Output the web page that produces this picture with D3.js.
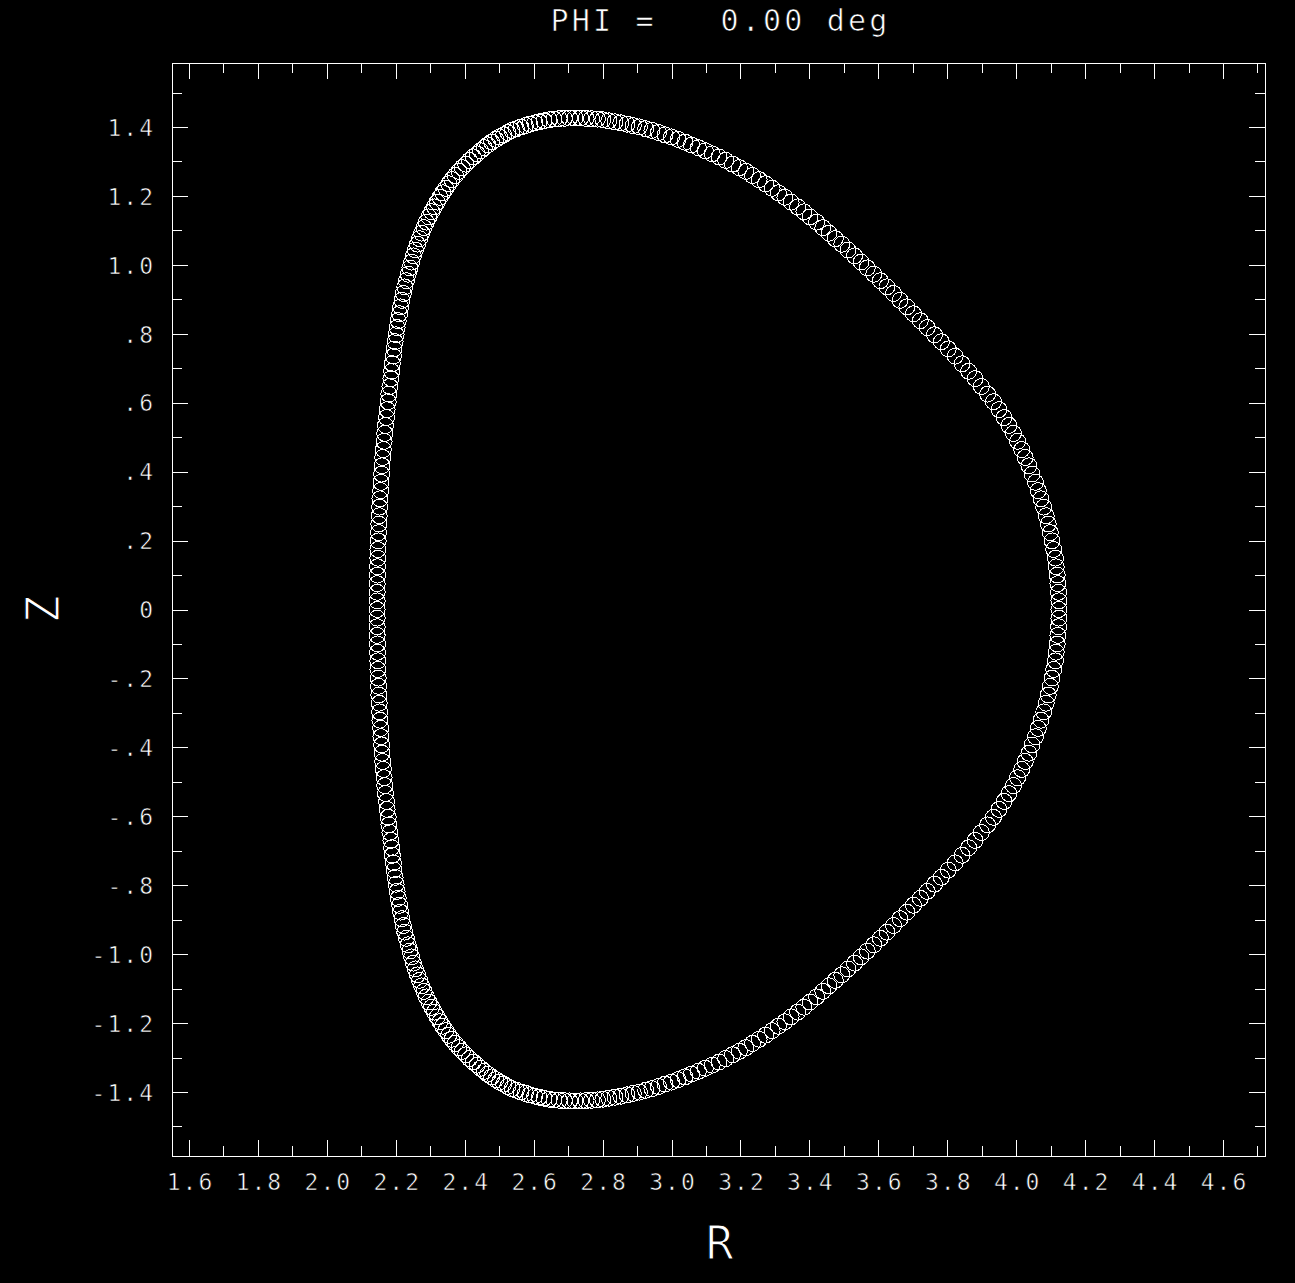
<!DOCTYPE html>
<html>
<head>
<meta charset="utf-8">
<script src="https://cdn.jsdelivr.net/npm/d3@7"></script>
<style>
  html, body { margin: 0; padding: 0; background: #000; }
  svg { display: block; }
</style>
</head>
<body>
<svg id="chart"></svg>
<script>
// ---- data ----
const title = "PHI =   0.00 deg";
const xLabel = "R";
const yLabel = "Z";

const xTicks = [1.6, 1.8, 2.0, 2.2, 2.4, 2.6, 2.8, 3.0, 3.2, 3.4, 3.6, 3.8, 4.0, 4.2, 4.4, 4.6];
const xTickLabels = ["1.6", "1.8", "2.0", "2.2", "2.4", "2.6", "2.8", "3.0", "3.2", "3.4", "3.6", "3.8", "4.0", "4.2", "4.4", "4.6"];
const xMinorTicks = [1.7, 1.9, 2.1, 2.3, 2.5, 2.7, 2.9, 3.1, 3.3, 3.5, 3.7, 3.9, 4.1, 4.3, 4.5, 4.7];

const yTicks = [1.4, 1.2, 1.0, 0.8, 0.6, 0.4, 0.2, 0, -0.2, -0.4, -0.6, -0.8, -1.0, -1.2, -1.4];
const yTickLabels = ["1.4", "1.2", "1.0", ".8", ".6", ".4", ".2", "0", "-.2", "-.4", "-.6", "-.8", "-1.0", "-1.2", "-1.4"];
const yMinorTicks = [1.5, 1.3, 1.1, 0.9, 0.7, 0.5, 0.3, 0.1, -0.1, -0.3, -0.5, -0.7, -0.9, -1.1, -1.3, -1.5];

// boundary points (R, Z), one circle each
const rPts = [
  4.124, 4.124, 4.123, 4.121, 4.119, 4.116, 4.114, 4.109, 4.104, 4.099,
  4.093, 4.087, 4.080, 4.072, 4.064, 4.056, 4.046, 4.037, 4.026, 4.016,
  4.004, 3.992, 3.979, 3.965, 3.950, 3.934, 3.917, 3.899, 3.881, 3.862,
  3.843, 3.823, 3.803, 3.783, 3.763, 3.742, 3.722, 3.702, 3.683, 3.663,
  3.644, 3.625, 3.606, 3.587, 3.568, 3.550, 3.531, 3.512, 3.494, 3.475,
  3.457, 3.439, 3.421, 3.402, 3.384, 3.366, 3.347, 3.329, 3.310, 3.292,
  3.273, 3.254, 3.235, 3.216, 3.197, 3.177, 3.157, 3.138, 3.118, 3.098,
  3.078, 3.058, 3.039, 3.019, 3.000, 2.981, 2.962, 2.943, 2.925, 2.907,
  2.889, 2.871, 2.853, 2.836, 2.818, 2.801, 2.785, 2.768, 2.752, 2.736,
  2.720, 2.704, 2.689, 2.674, 2.659, 2.645, 2.630, 2.616, 2.603, 2.589,
  2.576, 2.563, 2.550, 2.537, 2.525, 2.513, 2.501, 2.490, 2.478, 2.467,
  2.457, 2.446, 2.436, 2.425, 2.414, 2.403, 2.393, 2.383, 2.373, 2.363,
  2.354, 2.345, 2.336, 2.328, 2.320, 2.312, 2.304, 2.296, 2.289, 2.282,
  2.275, 2.269, 2.263, 2.257, 2.251, 2.246, 2.241, 2.236, 2.231, 2.226,
  2.222, 2.218, 2.214, 2.211, 2.207, 2.204, 2.201, 2.198, 2.195, 2.193,
  2.190, 2.188, 2.186, 2.183, 2.180, 2.178, 2.175, 2.173, 2.170, 2.168,
  2.166, 2.164, 2.162, 2.160, 2.159, 2.157, 2.156, 2.154, 2.153, 2.152,
  2.151, 2.150, 2.149, 2.148, 2.148, 2.147, 2.147, 2.146, 2.146, 2.146,
  2.146, 2.146, 2.146, 2.146, 2.147, 2.147, 2.148, 2.148, 2.149, 2.150,
  2.151, 2.152, 2.153, 2.154, 2.156, 2.157, 2.159, 2.160, 2.162, 2.164,
  2.166, 2.168, 2.170, 2.173, 2.175, 2.178, 2.180, 2.183, 2.186, 2.188,
  2.190, 2.193, 2.195, 2.198, 2.201, 2.204, 2.207, 2.211, 2.214, 2.218,
  2.222, 2.226, 2.231, 2.236, 2.241, 2.246, 2.251, 2.257, 2.263, 2.269,
  2.275, 2.282, 2.289, 2.296, 2.304, 2.312, 2.320, 2.328, 2.336, 2.345,
  2.354, 2.363, 2.373, 2.383, 2.393, 2.403, 2.414, 2.425, 2.436, 2.446,
  2.457, 2.467, 2.478, 2.490, 2.501, 2.513, 2.525, 2.537, 2.550, 2.563,
  2.576, 2.589, 2.603, 2.616, 2.630, 2.645, 2.659, 2.674, 2.689, 2.704,
  2.720, 2.736, 2.752, 2.768, 2.785, 2.801, 2.818, 2.836, 2.853, 2.871,
  2.889, 2.907, 2.925, 2.943, 2.962, 2.981, 3.000, 3.019, 3.039, 3.058,
  3.078, 3.098, 3.118, 3.138, 3.157, 3.177, 3.197, 3.216, 3.235, 3.254,
  3.273, 3.292, 3.310, 3.329, 3.347, 3.366, 3.384, 3.402, 3.421, 3.439,
  3.457, 3.475, 3.494, 3.512, 3.531, 3.550, 3.568, 3.587, 3.606, 3.625,
  3.644, 3.663, 3.683, 3.702, 3.722, 3.742, 3.763, 3.783, 3.803, 3.823,
  3.843, 3.862, 3.881, 3.899, 3.917, 3.934, 3.950, 3.965, 3.979, 3.992,
  4.004, 4.016, 4.026, 4.037, 4.046, 4.056, 4.064, 4.072, 4.080, 4.087,
  4.093, 4.099, 4.104, 4.109, 4.114, 4.116, 4.119, 4.121, 4.123, 4.124
];
const zPts = [
  0.000, 0.025, 0.050, 0.075, 0.100, 0.124, 0.149, 0.174, 0.199, 0.223,
  0.248, 0.272, 0.297, 0.321, 0.345, 0.369, 0.393, 0.417, 0.441, 0.464,
  0.488, 0.511, 0.534, 0.557, 0.580, 0.603, 0.625, 0.647, 0.670, 0.691,
  0.713, 0.735, 0.756, 0.777, 0.797, 0.818, 0.838, 0.858, 0.878, 0.897,
  0.917, 0.936, 0.954, 0.973, 0.991, 1.008, 1.026, 1.043, 1.060, 1.076,
  1.092, 1.108, 1.124, 1.139, 1.154, 1.168, 1.182, 1.196, 1.209, 1.222,
  1.235, 1.247, 1.259, 1.271, 1.282, 1.292, 1.303, 1.313, 1.322, 1.331,
  1.340, 1.348, 1.356, 1.364, 1.371, 1.377, 1.384, 1.390, 1.395, 1.400,
  1.404, 1.408, 1.412, 1.415, 1.418, 1.421, 1.423, 1.424, 1.425, 1.426,
  1.426, 1.426, 1.425, 1.424, 1.423, 1.421, 1.418, 1.415, 1.412, 1.408,
  1.404, 1.400, 1.395, 1.390, 1.384, 1.377, 1.371, 1.364, 1.356, 1.348,
  1.340, 1.331, 1.322, 1.313, 1.303, 1.292, 1.282, 1.271, 1.259, 1.247,
  1.235, 1.222, 1.209, 1.196, 1.182, 1.168, 1.154, 1.139, 1.124, 1.108,
  1.092, 1.076, 1.060, 1.043, 1.026, 1.008, 0.991, 0.973, 0.954, 0.936,
  0.917, 0.897, 0.878, 0.858, 0.838, 0.818, 0.797, 0.777, 0.756, 0.735,
  0.713, 0.691, 0.670, 0.647, 0.625, 0.603, 0.580, 0.557, 0.534, 0.511,
  0.488, 0.464, 0.441, 0.417, 0.393, 0.369, 0.345, 0.321, 0.297, 0.272,
  0.248, 0.223, 0.199, 0.174, 0.149, 0.124, 0.100, 0.075, 0.050, 0.025,
  0.000, -0.025, -0.050, -0.075, -0.100, -0.124, -0.149, -0.174, -0.199, -0.223,
  -0.248, -0.272, -0.297, -0.321, -0.345, -0.369, -0.393, -0.417, -0.441, -0.464,
  -0.488, -0.511, -0.534, -0.557, -0.580, -0.603, -0.625, -0.647, -0.670, -0.691,
  -0.713, -0.735, -0.756, -0.777, -0.797, -0.818, -0.838, -0.858, -0.878, -0.897,
  -0.917, -0.936, -0.954, -0.973, -0.991, -1.008, -1.026, -1.043, -1.060, -1.076,
  -1.092, -1.108, -1.124, -1.139, -1.154, -1.168, -1.182, -1.196, -1.209, -1.222,
  -1.235, -1.247, -1.259, -1.271, -1.282, -1.292, -1.303, -1.313, -1.322, -1.331,
  -1.340, -1.348, -1.356, -1.364, -1.371, -1.377, -1.384, -1.390, -1.395, -1.400,
  -1.404, -1.408, -1.412, -1.415, -1.418, -1.421, -1.423, -1.424, -1.425, -1.426,
  -1.426, -1.426, -1.425, -1.424, -1.423, -1.421, -1.418, -1.415, -1.412, -1.408,
  -1.404, -1.400, -1.395, -1.390, -1.384, -1.377, -1.371, -1.364, -1.356, -1.348,
  -1.340, -1.331, -1.322, -1.313, -1.303, -1.292, -1.282, -1.271, -1.259, -1.247,
  -1.235, -1.222, -1.209, -1.196, -1.182, -1.168, -1.154, -1.139, -1.124, -1.108,
  -1.092, -1.076, -1.060, -1.043, -1.026, -1.008, -0.991, -0.973, -0.954, -0.936,
  -0.917, -0.897, -0.878, -0.858, -0.838, -0.818, -0.797, -0.777, -0.756, -0.735,
  -0.713, -0.691, -0.670, -0.647, -0.625, -0.603, -0.580, -0.557, -0.534, -0.511,
  -0.488, -0.464, -0.441, -0.417, -0.393, -0.369, -0.345, -0.321, -0.297, -0.272,
  -0.248, -0.223, -0.199, -0.174, -0.149, -0.124, -0.100, -0.075, -0.050, -0.025
];

// ---- layout ----
const width = 1295, height = 1283;
const margin = { left: 172, top: 63 };
const plotW = 1093, plotH = 1093;
const fontMono = "'DejaVu Sans Mono', 'Liberation Mono', monospace";

const svg = d3.select("#chart")
    .attr("width", width)
    .attr("height", height)
    .style("background", "#000");

const x = d3.scaleLinear().domain([1.5507, 4.7219]).range([0, plotW]);
const y = d3.scaleLinear().domain([-1.5856, 1.5856]).range([plotH, 0]);

const g = svg.append("g")
    .attr("transform", `translate(${margin.left},${margin.top})`);

// style an axis group: white 1px ticks, mono labels, no domain line
function styleAxis(sel) {
    sel.attr("color", "#fff")
        .attr("font-family", fontMono)
        .attr("font-size", 23);
    sel.select(".domain").remove();
    sel.selectAll(".tick line")
        .attr("stroke-width", 1)
        .attr("shape-rendering", "crispEdges");
    sel.selectAll(".tick text")
        .attr("fill", "#fff")
        .attr("stroke", "#000")
        .attr("stroke-width", 0.6)
        .style("letter-spacing", "2px");
}

const label = (ticks, labels) => d => labels[ticks.indexOf(d)];

// bottom
g.append("g")
    .attr("transform", `translate(0,${plotH})`)
    .call(d3.axisBottom(x).tickValues(xTicks).tickSize(-16).tickPadding(18)
        .tickFormat(label(xTicks, xTickLabels)))
    .call(styleAxis)
    .selectAll(".tick text").attr("dx", 1);
g.append("g")
    .attr("transform", `translate(0,${plotH})`)
    .call(d3.axisBottom(x).tickValues(xMinorTicks).tickSize(-10).tickFormat(""))
    .call(styleAxis);

// top
g.append("g")
    .call(d3.axisTop(x).tickValues(xTicks).tickSize(-16).tickFormat(""))
    .call(styleAxis);
g.append("g")
    .call(d3.axisTop(x).tickValues(xMinorTicks).tickSize(-10).tickFormat(""))
    .call(styleAxis);

// left
g.append("g")
    .call(d3.axisLeft(y).tickValues(yTicks).tickSize(-16).tickPadding(17)
        .tickFormat(label(yTicks, yTickLabels)))
    .call(styleAxis)
    .selectAll(".tick text").attr("dy", "0.36em");
g.append("g")
    .call(d3.axisLeft(y).tickValues(yMinorTicks).tickSize(-10).tickFormat(""))
    .call(styleAxis);

// right
g.append("g")
    .attr("transform", `translate(${plotW},0)`)
    .call(d3.axisRight(y).tickValues(yTicks).tickSize(-16).tickFormat(""))
    .call(styleAxis);
g.append("g")
    .attr("transform", `translate(${plotW},0)`)
    .call(d3.axisRight(y).tickValues(yMinorTicks).tickSize(-10).tickFormat(""))
    .call(styleAxis);

// frame
g.append("rect")
    .attr("width", plotW)
    .attr("height", plotH)
    .attr("fill", "none")
    .attr("stroke", "#fff")
    .attr("stroke-width", 1)
    .attr("shape-rendering", "crispEdges");

// boundary markers
g.append("g")
    .selectAll("circle")
    .data(d3.zip(rPts, zPts))
    .join("circle")
    .attr("cx", d => x(d[0]))
    .attr("cy", d => y(d[1]))
    .attr("r", 8)
    .attr("fill", "none")
    .attr("stroke", "#fff")
    .attr("stroke-width", 1)
    .attr("shape-rendering", "crispEdges");

// title and axis names
svg.append("text")
    .attr("x", margin.left + plotW / 2 + 2)
    .attr("y", 31)
    .attr("text-anchor", "middle")
    .attr("font-family", fontMono)
    .attr("font-size", 30)
    .attr("fill", "#fff")
    .attr("stroke", "#000")
    .attr("stroke-width", 0.7)
    .style("letter-spacing", "3.2px")
    .style("white-space", "pre")
    .text(title);

svg.append("text")
    .attr("x", margin.left + plotW / 2 + 1)
    .attr("y", 1259)
    .attr("text-anchor", "middle")
    .attr("font-family", fontMono)
    .attr("font-size", 46)
    .attr("fill", "#fff")
    .attr("stroke", "#000")
    .attr("stroke-width", 1.2)
    .text(xLabel);

svg.append("text")
    .attr("transform", `translate(59,${margin.top + plotH / 2}) rotate(-90)`)
    .attr("text-anchor", "middle")
    .attr("font-family", fontMono)
    .attr("font-size", 46)
    .attr("fill", "#fff")
    .attr("stroke", "#000")
    .attr("stroke-width", 1.2)
    .text(yLabel);
</script>
</body>
</html>
